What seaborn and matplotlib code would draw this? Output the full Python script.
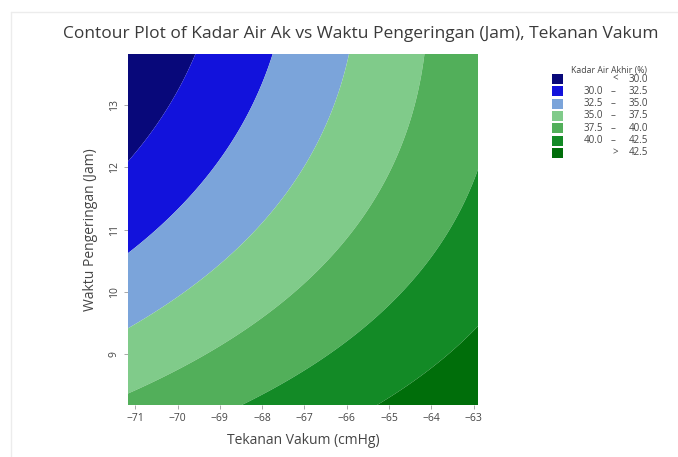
import numpy as np
import matplotlib
matplotlib.use("Agg")
import matplotlib.pyplot as plt
from matplotlib.patches import Rectangle
from matplotlib.lines import Line2D
import seaborn as sns

# Fitted response surface (coded: u = tekanan + 67, v = waktu - 11)
coef_names = ["const", "u", "v", "u2", "v2", "uv"]
coef_values = [36.230882, 1.082783, -1.349171, 0.004688, 0.139734, 0.107040]

tekanan_range = [-71.17, -62.9]
waktu_range = [8.18, 13.82]

levels = [0, 30.0, 32.5, 35.0, 37.5, 40.0, 42.5, 100]
level_colors = ["#08087a", "#1212dc", "#7ba4da", "#80cb8a", "#52af5a", "#138a26", "#006e0a"]
legend_low = ["<", "30.0", "32.5", "35.0", "37.5", "40.0", ">"]
legend_high = ["30.0", "32.5", "35.0", "37.5", "40.0", "42.5", "42.5"]

x_ticks = [-71, -70, -69, -68, -67, -66, -65, -64, -63]
y_ticks = [9, 10, 11, 12, 13]

sns.set_style("white")
plt.rcParams['font.family'] = ['Open Sans', 'DejaVu Sans']
text_color = "#454545"

fig = plt.figure(figsize=(6.78, 4.57), dpi=100)
ax = fig.add_axes([128 / 678, 1 - 405 / 457, 350 / 678, 351 / 457])

c = dict(zip(coef_names, coef_values))
X, Y = np.meshgrid(np.linspace(*tekanan_range, 300), np.linspace(*waktu_range, 300))
U, V = X + 67, Y - 11
Z = c["const"] + c["u"] * U + c["v"] * V + c["u2"] * U ** 2 + c["v2"] * V ** 2 + c["uv"] * U * V
ax.contourf(X, Y, Z, levels=levels, colors=level_colors, antialiased=True)

ax.set_xlim(tekanan_range)
ax.set_ylim(waktu_range)
ax.set_xticks(x_ticks)
ax.set_yticks(y_ticks)
ax.tick_params(axis='both', direction='out', length=3, width=0.6, color="#9a9a9a",
               labelsize=7.5, labelcolor=text_color, pad=3, bottom=True, left=True)
for lab in ax.get_yticklabels():
    lab.set_rotation(90)
    lab.set_va('center')
for s in ax.spines.values():
    s.set_visible(False)

ax.set_xlabel("Tekanan Vakum (cmHg)", fontsize=10, color=text_color, labelpad=6)
ax.set_ylabel("Waktu Pengeringan (Jam)", fontsize=10, color=text_color, labelpad=8)
fig.text(361 / 678, 1 - 34 / 457, "Contour Plot of Kadar Air Ak vs Waktu Pengeringan (Jam), Tekanan Vakum",
         ha='center', va='center', fontsize=12.5, color="#3a3a3a")

# legend
fig.text(571 / 678, 1 - 70 / 457, "Kadar Air Akhir (%)", fontsize=6.3, color=text_color, va='center')
for i, (col, lo, hi) in enumerate(zip(level_colors, legend_low, legend_high)):
    yc = 79 + i * 12.3
    fig.add_artist(Rectangle((552 / 678, 1 - (yc + 5) / 457), 11 / 678, 10 / 457,
                             transform=fig.transFigure, facecolor=col, edgecolor='none'))
    yy = 1 - yc / 457
    if lo in ("<", ">"):
        fig.text(615 / 678, yy, lo, fontsize=7, color=text_color, ha='center', va='center')
    else:
        fig.text(603 / 678, yy, lo, fontsize=7, color=text_color, ha='right', va='center')
        fig.text(613 / 678, yy, "–", fontsize=7, color=text_color, ha='center', va='center')
    fig.text(648 / 678, yy, hi, fontsize=7, color=text_color, ha='right', va='center')

# faint outer frame
fig.add_artist(Line2D([11 / 678, 1], [1 - 12 / 457] * 2, transform=fig.transFigure, color="#ececec", lw=1))
fig.add_artist(Line2D([11 / 678] * 2, [0, 1 - 12 / 457], transform=fig.transFigure, color="#ececec", lw=1))

fig.savefig("out.png", dpi=100)
